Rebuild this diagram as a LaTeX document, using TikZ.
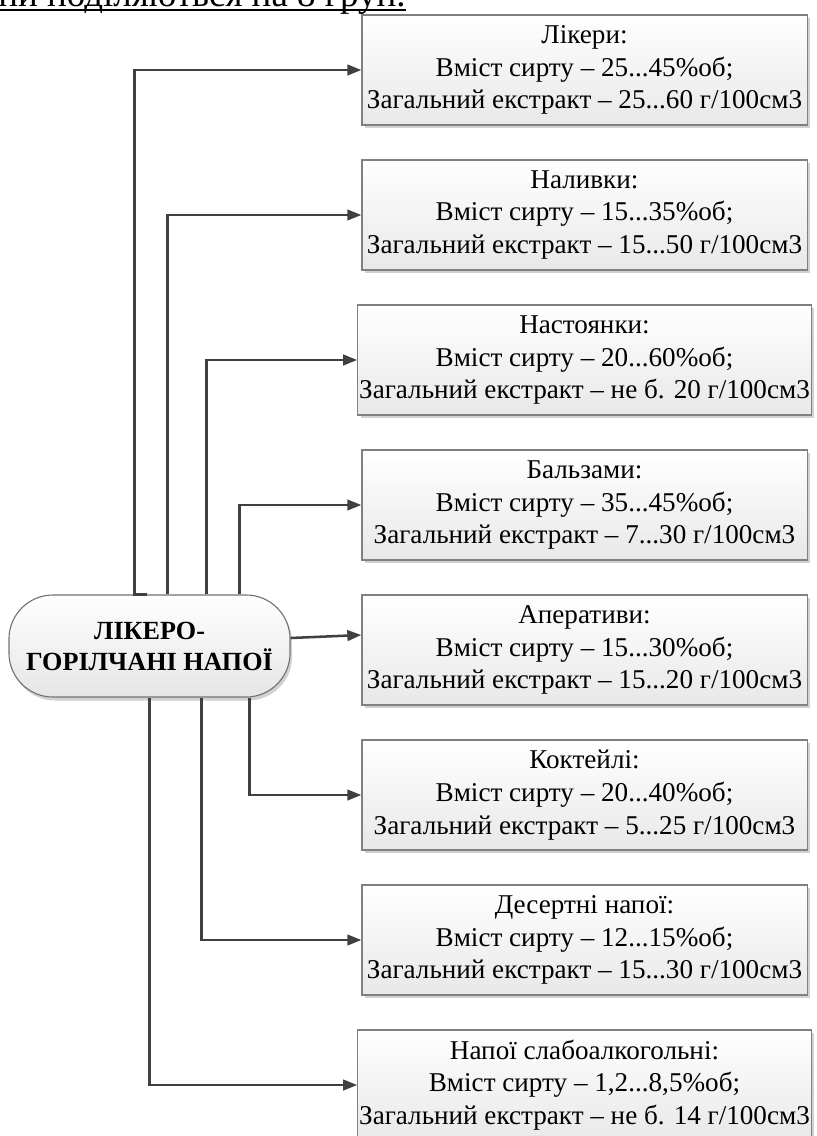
\documentclass[tikz,border=0pt]{standalone}
\usepackage{fontspec}
\setmainfont{Liberation Serif}
\usetikzlibrary{arrows.meta,positioning,calc,shadows}
\newcommand{\ulline}[1]{\setbox0\hbox{#1}\rlap{\rule[-2.6pt]{\wd0}{1.4pt}}\box0}

\begin{document}
\begin{tikzpicture}[x=0.025cm, y=-0.025cm,
    grp/.style={draw=black!50, line width=0.8pt, top color=white, bottom color=black!9,
      drop shadow={shadow xshift=2pt, shadow yshift=-2pt, fill=black!30, opacity=0.6},
      minimum width=11.125cm, minimum height=2.75cm, inner xsep=1pt, align=center,
      font=\fontsize{19.3}{23.2}\selectfont},
    main/.style={draw=black!55, line width=0.8pt, rounded corners=1.1cm, top color=white, bottom color=black!10,
      drop shadow={shadow xshift=1.5pt, shadow yshift=-2.5pt, fill=black!30, opacity=0.6},
      minimum width=7.025cm, minimum height=2.55cm, inner sep=1pt, align=center,
      font=\bfseries\fontsize{18.6}{22}\selectfont},
    conn/.style={draw=black!75, line width=1.8pt, -{Triangle[length=10pt, width=7.5pt]}}]
  \useasboundingbox (0,0) rectangle (816,1136);
  \clip (0,0) rectangle (816,1136);
  % cut-off text line above the scheme
  \node[anchor=base west, inner sep=0pt, font=\fontsize{26.3}{30}\selectfont] (ttl) at (-2,7) {\ulline{ни поділяються на 8 груп.}};
  \node[main] (drink) at (149.5,646) {ЛІКЕРО-\\ГОРІЛЧАНІ НАПОЇ};
  \node[grp] (b1) at (584.5,70) {Лікери:\\Вміст сирту – 25...45\%об;\\Загальний екстракт – 25...60 г/100см3};
  \node[grp] (b2) at (584.5,215) {Наливки:\\Вміст сирту – 15...35\%об;\\Загальний екстракт – 15...50 г/100см3};
  \node[grp] (b3) at (584.5,360) {Настоянки:\\Вміст сирту – 20...60\%об;\\Загальний екстракт – не б. 20 г/100см3};
  \node[grp] (b4) at (584.5,505) {Бальзами:\\Вміст сирту – 35...45\%об;\\Загальний екстракт – 7...30 г/100см3};
  \node[grp] (b5) at (584.5,650) {Аперативи:\\Вміст сирту – 15...30\%об;\\Загальний екстракт – 15...20 г/100см3};
  \node[grp] (b6) at (584.5,795) {Коктейлі:\\Вміст сирту – 20...40\%об;\\Загальний екстракт – 5...25 г/100см3};
  \node[grp] (b7) at (584.5,940) {Десертні напої:\\Вміст сирту – 12...15\%об;\\Загальний екстракт – 15...30 г/100см3};
  \node[grp] (b8) at (584.5,1085) {Напої слабоалкогольні:\\Вміст сирту – 1,2...8,5\%об;\\Загальний екстракт – не б. 14 г/100см3};
  % connectors
  \draw[conn] ($(drink.north west)+(139,0)$) -- ++(-13,0) |- (b1.west);
  \draw[conn] ($(drink.north west)+(159,0)$) |- (b2.west);
  \draw[conn] ($(drink.north west)+(198,0)$) |- (b3.west);
  \draw[conn] ($(drink.north west)+(231,0)$) |- (b4.west);
  \draw[conn] ($(drink.east)+(0,-8)$) -- ($(b5.west)+(0,-15)$);
  \draw[conn] ($(drink.south west)+(241,0)$) |- (b6.west);
  \draw[conn] ($(drink.south west)+(193,0)$) |- (b7.west);
  \draw[conn] ($(drink.south west)+(141,0)$) |- (b8.west);
\end{tikzpicture}
\end{document}
